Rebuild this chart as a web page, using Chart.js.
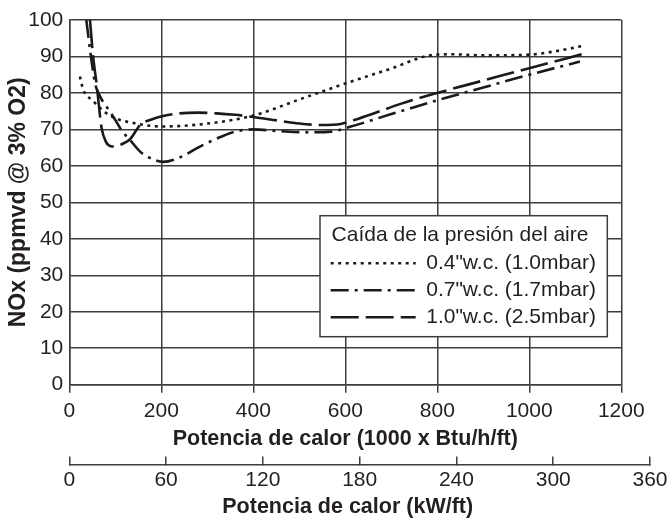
<!DOCTYPE html>
<html>
<head>
<meta charset="utf-8">
<title>NOx vs potencia de calor</title>
<script src="https://cdn.jsdelivr.net/npm/chart.js@4.4.1/dist/chart.umd.min.js"></script>
<style>
    html, body { margin: 0; padding: 0; background: #fff; }
    #wrap { position: relative; width: 667px; height: 523px; }
</style>
</head>
<body>
<div id="wrap"><canvas id="noxChart"></canvas></div>
<script>
// ================= DATA =================
const xTicksBtu = [0, 200, 400, 600, 800, 1000, 1200];
const xTicksKw = [0, 60, 120, 180, 240, 300, 360];
const yTicks = [0, 10, 20, 30, 40, 50, 60, 70, 80, 90, 100];

const legendTitle = 'Caída de la presión del aire';
const seriesLabels = ['0.4"w.c. (1.0mbar)', '0.7"w.c. (1.7mbar)', '1.0"w.c. (2.5mbar)'];

// 0.4"w.c. (dotted)
const dotX = [23, 30, 50, 80, 105, 130, 175, 200, 300, 400, 500, 600, 700, 780, 830, 900, 1000, 1060, 1120];
const dotY = [84.5, 81, 78, 74.5, 72.8, 72, 71, 70.8, 71.6, 73.8, 78.2, 82.6, 86.7, 90.2, 90.6, 90.3, 90.5, 91.5, 93];

// 0.7"w.c. (dash-dot)
const dashDotX = [37, 46, 56, 67, 81, 100, 115, 132, 154, 175, 204, 240, 284, 330, 360, 400, 460, 520, 570, 610, 700, 800, 900, 1000, 1110];
const dashDotY = [100, 91, 82.6, 79, 76.2, 72.6, 69.5, 67.1, 63.9, 62.2, 61.1, 62.3, 65.3, 68, 69.4, 70, 69.5, 69.2, 69.4, 70.7, 74.2, 78, 81.5, 85, 88.6];

// 1.0"w.c. (long dash)
const longDashX = [45, 51, 60, 70, 80, 90, 100, 115, 132, 154, 180, 204, 240, 280, 320, 360, 400, 450, 500, 550, 590, 620, 660, 720, 800, 900, 1000, 1120];
const longDashY = [100, 91, 81.7, 70.5, 66.5, 65.4, 65.3, 66, 67.3, 71.2, 72.8, 73.7, 74.4, 74.6, 74.4, 74, 73.4, 72.5, 71.6, 71.2, 71.5, 72.6, 74.3, 77, 80, 83.4, 86.8, 90.8];

// ================= STYLE =================
const INK = '#231f20';
const GRID = '#3d3d3d';
const LINE = '#1a1a1a';
const FONT = "'Liberation Sans', Arial, Helvetica, sans-serif";

const KW_AXIS_END = 650;                       // the kW/ft axis runs past the plot
const LEGEND_BOX = { x: 320, y: 215.7, w: 287.3, h: 121 };

// ================= HELPERS =================
const toPoints = (xs, ys) => xs.map((x, i) => ({ x, y: ys[i] }));
const fixedTicks = (list) => (scale) => { scale.ticks = list.map(v => ({ value: v })); };
const plainNumber = (v) => String(v);

function paintLegendBox(ctx) {
    const b = LEGEND_BOX;
    ctx.save();
    ctx.fillStyle = '#fff';
    ctx.fillRect(b.x, b.y, b.w, b.h);
    ctx.strokeStyle = GRID;
    ctx.lineWidth = 1.5;
    ctx.strokeRect(b.x, b.y, b.w, b.h);
    ctx.restore();
}

// ================= LAYOUT TWEAKS =================
const layoutTweaks = {
    id: 'layoutTweaks',
    afterLayout(chart) {
        const kw = chart.scales.x2;
        kw.right = KW_AXIS_END;
        kw.width = kw.right - kw.left;
        kw.configure();

        const lg = chart.legend;
        if (!lg) return;
        lg.left = 324.7;
        lg.top = 224.5;
        lg.width = 270.6;
        lg.right = 610;
        lg.bottom = 345;
        lg.height = lg.bottom - lg.top;

        if (!lg._boxed) {
            const drawLegend = lg.draw.bind(lg);
            lg.draw = function () {
                paintLegendBox(chart.ctx);
                drawLegend();
            };
            lg._boxed = true;
        }
    }
};

// ================= CHART =================
Chart.defaults.font.family = FONT;
Chart.defaults.color = INK;

const lineSet = (label, xs, ys, dash) => ({
    label,
    data: toPoints(xs, ys),
    xAxisID: 'x',
    yAxisID: 'y',
    borderColor: LINE,
    backgroundColor: LINE,
    borderWidth: 2.6,
    borderDash: dash,
    borderCapStyle: 'butt',
    pointRadius: 0,
    fill: false,
    cubicInterpolationMode: 'monotone'
});

new Chart(document.getElementById('noxChart'), {
    type: 'line',
    data: {
        datasets: [
            lineSet(seriesLabels[0], dotX, dotY, [3, 4.5]),
            lineSet(seriesLabels[1], dashDotX, dashDotY, [18, 6, 3, 6]),
            lineSet(seriesLabels[2], longDashX, longDashY, [28, 7])
        ]
    },
    plugins: [layoutTweaks],
    options: {
        responsive: true,
        maintainAspectRatio: false,
        devicePixelRatio: 1,
        animation: false,
        layout: { padding: { top: 20, right: 45.7, bottom: 0, left: 0 } },
        plugins: {
            tooltip: { enabled: false },
            legend: {
                position: 'chartArea',
                align: 'start',
                title: {
                    display: true,
                    text: legendTitle,
                    position: 'center',
                    color: INK,
                    font: { size: 21, lineHeight: 1 },
                    padding: { top: 0, bottom: 1.3 }
                },
                labels: {
                    usePointStyle: true,
                    pointStyle: 'line',
                    pointStyleWidth: 85,
                    padding: 6,
                    color: INK,
                    font: { size: 21 },
                    generateLabels: (chart) =>
                        chart.data.datasets.map((ds, i) => ({
                            text: ds.label,
                            fontColor: INK,
                            strokeStyle: ds.borderColor,
                            fillStyle: 'rgba(0,0,0,0)',
                            lineWidth: ds.borderWidth,
                            lineDash: ds.borderDash,
                            lineCap: 'butt',
                            pointStyle: 'line',
                            rotation: 180,
                            hidden: false,
                            datasetIndex: i
                        }))
                }
            }
        },
        scales: {
            x: {
                type: 'linear',
                position: 'bottom',
                weight: 0,
                min: 0,
                max: 1200,
                afterBuildTicks: fixedTicks(xTicksBtu),
                afterFit: (s) => { s.height = 79.8; },
                grid: { color: GRID, lineWidth: 1.5, tickLength: 8, z: -1 },
                border: { color: GRID, width: 1.5 },
                ticks: { color: INK, font: { size: 21 }, padding: 6.4, maxRotation: 0, callback: plainNumber },
                title: {
                    display: true,
                    text: 'Potencia de calor (1000 x Btu/h/ft)',
                    color: INK,
                    font: { size: 21.5, weight: 'bold' },
                    padding: { top: 0, bottom: 12.3 }
                }
            },
            x2: {
                type: 'linear',
                position: 'bottom',
                weight: 1,
                min: 0,
                max: 360,
                afterBuildTicks: fixedTicks(xTicksKw),
                afterFit: (s) => { s.height = 58.5; },
                grid: { drawOnChartArea: false, color: GRID, lineWidth: 1.5, tickLength: -8 },
                border: { color: GRID, width: 1.5 },
                ticks: { color: INK, font: { size: 21 }, padding: 10.9, maxRotation: 0, callback: plainNumber },
                title: {
                    display: true,
                    // trailing spaces pull the centred title back under the plot
                    text: 'Potencia de calor (kW/ft)    ',
                    color: INK,
                    font: { size: 21.5, weight: 'bold' },
                    padding: { top: 0, bottom: 2.8 }
                }
            },
            y: {
                type: 'linear',
                min: 0,
                max: 100,
                afterBuildTicks: fixedTicks(yTicks),
                afterFit: (s) => { s.width = 69.3; },
                grid: { color: GRID, lineWidth: 1.5, drawTicks: false, z: -1 },
                border: { color: GRID, width: 1.5 },
                ticks: { color: INK, font: { size: 21 }, padding: 6, callback: plainNumber },
                title: {
                    display: true,
                    text: 'NOx (ppmvd @ 3% O2)',
                    color: INK,
                    font: { size: 23, weight: 'bold' },
                    padding: { top: 4.5, bottom: 0 }
                }
            }
        }
    }
});
</script>
</body>
</html>
